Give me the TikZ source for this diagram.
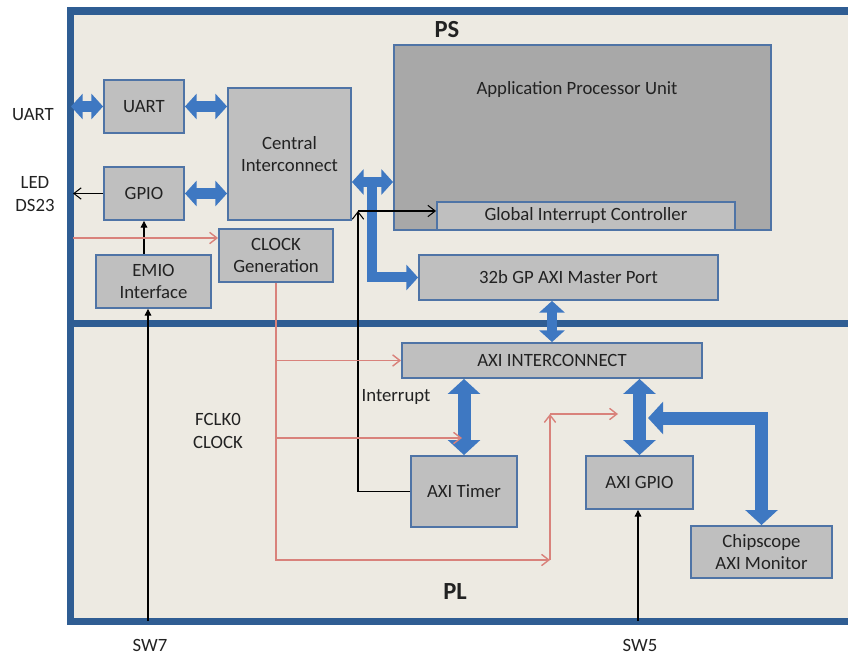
\documentclass[tikz,border=0pt]{standalone}
\usepackage{fontspec}
\setmainfont{Carlito}
\usepackage{tikz}
\usetikzlibrary{arrows.meta}
\definecolor{psfill}{HTML}{EDEAE2}
\definecolor{frameblue}{HTML}{2F5D93}
\definecolor{blockfill}{HTML}{BFBFBF}
\definecolor{apufill}{HTML}{A8A8A8}
\definecolor{blockedge}{HTML}{4F74A6}
\definecolor{busblue}{HTML}{3E78C2}
\definecolor{clkred}{HTML}{D9827B}
\definecolor{txt}{HTML}{222222}
\tikzstyle{frame} = [draw=frameblue, line width=6pt]
\tikzstyle{block} = [rectangle, draw=blockedge, fill=blockfill, line width=1.6pt, text=txt, align=center, inner sep=0pt]
\tikzstyle{apubox} = [rectangle, draw=blockedge, fill=apufill, line width=1.6pt, inner sep=0pt]
\tikzstyle{lbl} = [text=txt, align=center, inner sep=0pt]
\tikzstyle{bus} = [draw=busblue, line width=0.32cm, arrows={Triangle[width=0.75cm,length=0.35cm]-Triangle[width=0.75cm,length=0.35cm]}]
\tikzstyle{busone} = [draw=busblue, line width=0.3cm, arrows={-Triangle[width=0.75cm,length=0.35cm]}]
\tikzstyle{widebus} = [draw=busblue, line width=0.39cm, arrows={Triangle[width=0.95cm,length=0.45cm]-Triangle[width=0.95cm,length=0.45cm]}]
\tikzstyle{sig} = [draw=black, line width=0.9pt, arrows={-Straight Barb[length=2.2mm,width=3.4mm]}]
\tikzstyle{pin} = [draw=black, line width=0.9pt, arrows={-Triangle[length=2mm,width=2mm]}]
\tikzstyle{clk} = [draw=clkred, line width=1.2pt, arrows={-Straight Barb[length=2.2mm,width=3.4mm]}]

\begin{document}
\begin{tikzpicture}[x=0.03cm, y=-0.03cm, font=\fontsize{16}{19}\selectfont]
\useasboundingbox (0,0) rectangle (848,657);
\clip (0,0) rectangle (848,657);

% PS / PL frame
\fill[psfill] (70.5,11) rectangle (880,621.5);
\draw[frame] (70.5,11) rectangle (880,621.5);
\draw[frame] (70.5,323.5) -- (880,323.5);
\node[lbl, font=\fontsize{21}{24}\selectfont\bfseries] (ps) at (447,30) {PS};
\node[lbl, font=\fontsize{21}{24}\selectfont\bfseries] (pl) at (455,592) {PL};

% PS blocks
\node[block, minimum width=2.4cm, minimum height=1.59cm] (uart) at (144,106.5) {UART};
\node[block, minimum width=2.4cm, minimum height=1.59cm] (gpio) at (144,193.5) {GPIO};
\node[block, minimum width=3.69cm, minimum height=3.96cm] (central) at (289.5,154) {Central\\Interconnect};
\node[block, minimum width=3.42cm, minimum height=1.59cm] (clkgen) at (276,255.5) {CLOCK\\Generation};
\node[block, minimum width=3.45cm, minimum height=1.59cm] (emio) at (153.5,281.5) {EMIO\\Interface};
\node[apubox, minimum width=11.31cm, minimum height=5.55cm] (apu) at (582.5,137.5) {};
\node[lbl] (apulbl) at (577,90) {Application Processor Unit};
\node[block, minimum width=8.94cm, minimum height=0.84cm] (gic) at (586,216) {Global Interrupt Controller};
\node[block, minimum width=8.97cm, minimum height=1.35cm] (gp) at (568.5,277.5) {32b GP AXI Master Port};

% PL blocks
\node[block, minimum width=9cm, minimum height=1.05cm] (axi) at (552,360.5) {AXI INTERCONNECT};
\node[block, minimum width=3.18cm, minimum height=2.13cm] (timer) at (464,491.5) {AXI Timer};
\node[block, minimum width=3.21cm, minimum height=1.59cm] (axigpio) at (639.5,482.5) {AXI GPIO};
\node[block, minimum width=4.23cm, minimum height=1.56cm] (chip) at (761.5,552) {Chipscope\\AXI Monitor};

% outside labels
\node[lbl] (uartlbl) at (33,115) {UART};
\node[lbl] (ledlbl) at (35,194) {LED\\DS23};
\node[lbl] (sw7) at (150,645) {SW7};
\node[lbl] (sw5) at (640,645) {SW5};
\node[lbl] (fclk) at (218,431) {FCLK0\\CLOCK};
\node[lbl] (irqlbl) at (396,397) {Interrupt};

\coordinate (uartpin) at (71,106.5);
\coordinate (ledpin) at (73,193.5);
\coordinate (clkpin) at (73,238);
\coordinate (sw7pin) at (148,621);
\coordinate (sw5pin) at (638,621);
\coordinate (stem) at (372,182);
\coordinate (irq) at (358,211);
\coordinate (bend1) at (550,560);
\coordinate (bend2) at (550,414);
\coordinate (gpclk) at (618,414);
\coordinate (tclk) at (462,438);
\coordinate (gpiotap) at (648,418);

% buses
\draw[bus] (uartpin) -- (uart.west);
\draw[bus] (uart.east) -- (central.west |- uart.east);
\draw[bus] (gpio.east) -- (central.west |- gpio.east);
\draw[bus] (central.east |- stem) -- (apu.west |- stem);
\draw[busone] (stem) |- (gp.west);
\draw[bus] (axi.north) -- (axi.north |- gp.south);
\draw[widebus] (timer.north) -- (timer.north |- axi.south);
\draw[widebus] (axigpio.north) -- (axigpio.north |- axi.south);
\draw[widebus] (gpiotap) -| (chip.north);

% signals
\draw[sig] (gpio.west) -- (ledpin);
\draw[pin] (emio.north -| gpio.south) -- (gpio.south);
\draw[pin] (sw7pin) -- (emio.south -| sw7pin);
\draw[pin] (sw5pin) -- (axigpio.south -| sw5pin);
\draw[sig] (timer.west) -| (irq);
\draw[sig] (irq) -- (gic.west |- irq);

% clocks
\draw[clk] (clkpin) -- (clkgen.west |- clkpin);
\draw[clk] (clkgen.south) |- (bend1);
\draw[clk] (bend1) -- (bend2);
\draw[clk] (bend2) -- (gpclk);
\draw[clk] (clkgen.south |- axi.west) -- (axi.west);
\draw[clk] (clkgen.south |- tclk) -- (tclk);
\end{tikzpicture}
\end{document}
